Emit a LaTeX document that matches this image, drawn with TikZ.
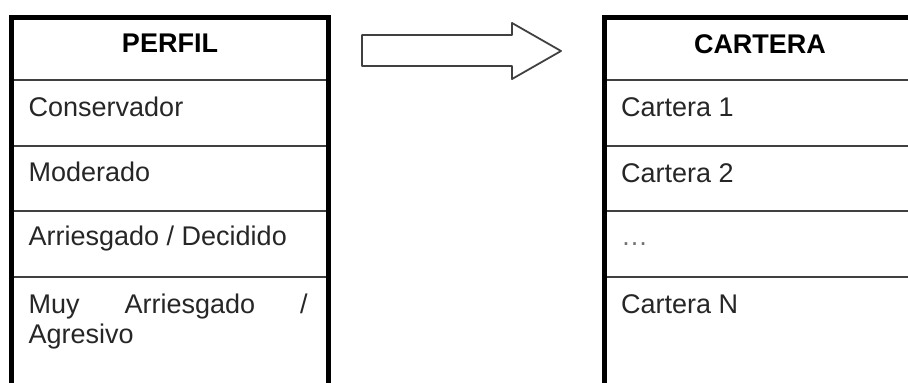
\documentclass[tikz,border=0pt]{standalone}
\usepackage{fontspec}
\setmainfont{Liberation Sans}
\begin{document}
\begin{tikzpicture}[x=1pt,y=-1pt,
  thickborder/.style={line width=5pt,black},
  rowline/.style={line width=1.8pt,black!75},
  cell/.style={anchor=base west,inner sep=0pt,text=black!85,font=\fontsize{27}{30}\selectfont},
  head/.style={anchor=base,inner sep=0pt,text=black,font=\fontsize{27}{30}\selectfont\bfseries},
  bigarrow/.style={line width=1.8pt,black!75,fill=white,line join=round}]
\useasboundingbox (0,0) rectangle (908,383);
% left table
\draw[rowline] (11.5,80) -- (328.5,80) (11.5,146) -- (328.5,146) (11.5,211) -- (328.5,211) (11.5,277) -- (328.5,277);
\draw[thickborder] (11.5,390) -- (11.5,17) -- (328.5,17) -- (328.5,390);
% right table
\draw[rowline] (604,80) -- (915,80) (604,146) -- (915,146) (604,211) -- (915,211) (604,277) -- (915,277);
\draw[thickborder] (604,390) -- (604,17) -- (915,17);
% arrow
\draw[bigarrow] (362,35) -- (512,35) -- (512,23) -- (561,51) -- (512,79) -- (512,66) -- (362,66) -- cycle;
% texts left
\node[head] (perfil) at (170,52) {PERFIL};
\node[cell] (cons) at (28.5,116) {Conservador};
\node[cell] (mod) at (28.5,181) {Moderado};
\node[cell] (arr) at (28.5,245) {Arriesgado / Decidido};
\node[cell] (muy) at (28.5,313) {\hbox to 279pt{Muy\hfill Arriesgado\hfill /}};
\node[cell] (agr) at (28.5,343) {Agresivo};
% texts right
\node[head] (cartera) at (760,53) {CARTERA};
\node[cell] (c1) at (621,116) {Cartera 1};
\node[cell] (c2) at (621,182) {Cartera 2};
\node[cell,text=black!55] (dots) at (621,245) {…};
\node[cell] (cn) at (621,313) {Cartera N};
\end{tikzpicture}
\end{document}
